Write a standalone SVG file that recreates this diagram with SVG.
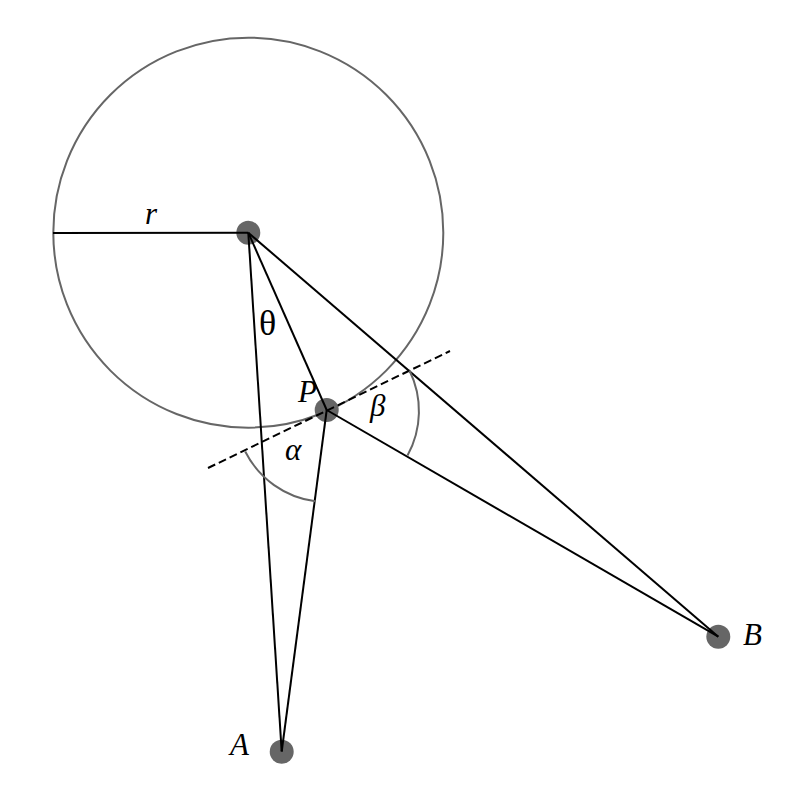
<svg xmlns="http://www.w3.org/2000/svg" width="800" height="802" viewBox="0 0 800 802">
<style>
.ln{stroke:#000;stroke-width:2;fill:none}
.gr{stroke:#666;stroke-width:2;fill:none}
.dot{fill:#666}
.lbl{font-family:"Liberation Serif",serif;font-style:italic;font-size:31px;fill:#000}
.th{font-family:"Liberation Serif",serif;font-size:36px;fill:#000}
</style>
<rect width="800" height="802" fill="#fff"/>
<g id="circle"><circle cx="248.3" cy="232.7" r="195" class="gr"/></g>
<g id="node-center"><circle cx="248.3" cy="232.7" r="12" class="dot"/></g>
<g id="node-P"><circle cx="326.7" cy="410" r="12" class="dot"/></g>
<g id="node-A"><circle cx="281.7" cy="751.7" r="12" class="dot"/></g>
<g id="node-B"><circle cx="718.3" cy="636.7" r="12" class="dot"/></g>
<g id="connectors">
<line x1="53" y1="233" x2="248.3" y2="232.7" class="ln"/>
<line x1="248.3" y1="232.7" x2="281.7" y2="751.5" class="ln"/>
<line x1="248.3" y1="232.7" x2="326.7" y2="410" class="ln"/>
<line x1="248.3" y1="232.7" x2="718.3" y2="636.7" class="ln"/>
<line x1="326.7" y1="410" x2="281.7" y2="751.5" class="ln"/>
<line x1="326.7" y1="410" x2="718.3" y2="636.7" class="ln"/>
<line x1="208" y1="468" x2="450" y2="351" class="ln" stroke-dasharray="8,4"/>
<path d="M 245.2 451.5 A 92 92 0 0 0 315.3 501.3" class="gr"/>
<path d="M 409.5 370.5 A 92 92 0 0 1 407.5 455.5" class="gr"/>
</g>
<g id="labels">
<text x="145" y="224" class="lbl">r</text>
<text x="259" y="335" class="th">θ</text>
<text x="298" y="401.5" class="lbl">P</text>
<text x="370" y="416" class="lbl">β</text>
<text x="285" y="460" class="lbl">α</text>
<text x="230" y="755" class="lbl">A</text>
<text x="743" y="645" class="lbl">B</text>
</g>
</svg>
